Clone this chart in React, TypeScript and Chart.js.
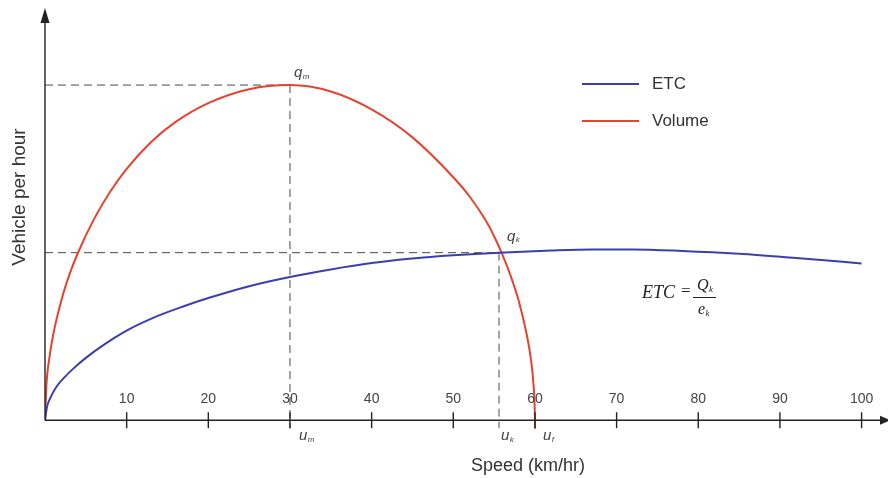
import React, { useEffect, useRef } from "react";
import { Chart, registerables } from "chart.js";

Chart.register(...registerables);

// ---- data ----
const etcSpeed = [0, 0.25, 0.6, 1.4, 2.5, 3.4, 5, 7.5, 10, 13.6, 17, 20, 25, 30, 35, 40, 45, 50, 55.6, 62, 67, 72, 78, 85, 92, 100];
const etcValue = [0, 80, 128, 200, 262, 305, 372, 460, 535, 618, 680, 729, 800, 855, 900, 938, 965, 984, 1000, 1013, 1019, 1019, 1010, 993, 968, 936];

const volumeSpeed = [0, 0.2, 0.5, 1, 2, 3, 4, 6, 8, 10, 13, 16, 20, 25, 30, 35, 40, 45, 50, 52, 54, 55, 56, 57, 58, 59, 59.5, 59.8, 60, 60.01];
const volumeValue = [0, 230, 360, 510, 715, 870, 995, 1200, 1365, 1500, 1660, 1780, 1892, 1975, 2000, 1962, 1855, 1688, 1450, 1335, 1190, 1098, 990, 865, 715, 510, 365, 225, 0, -50];

const xTickValues = [10, 20, 30, 40, 50, 60, 70, 80, 90, 100];
const seriesLabels = ["ETC", "Volume"];
const seriesColors = ["#3b3fae", "#e5432f"];

const qmPoint = { speed: 30, volume: 2000 };
const qkPoint = { speed: 55.6, volume: 1000 };
const ufSpeed = 60;

const xAxisTitle = "Speed (km/hr)";
const yAxisTitle = "Vehicle per hour";

const SANS = '"Liberation Sans", Arial, sans-serif';
const SERIF = '"Liberation Serif", "Times New Roman", serif';

function sub(ctx: CanvasRenderingContext2D, x: number, y: number, main: string, s: string, size: number, font: string) {
  ctx.font = `italic ${size}px ${font}`;
  ctx.textAlign = "left";
  ctx.textBaseline = "middle";
  ctx.fillText(main, x, y);
  const w = ctx.measureText(main).width;
  ctx.font = `italic ${Math.round(size * 0.55)}px ${font}`;
  ctx.fillText(s, x + w + 0.5, y + size * 0.22);
}

const overlayPlugin = {
  id: "overlay",
  beforeDatasetsDraw(chart: any) {
    const { ctx } = chart;
    const xs = chart.scales.x;
    const ys = chart.scales.y;
    const x0 = xs.getPixelForValue(0);
    const y0 = ys.getPixelForValue(0);
    ctx.save();
    ctx.strokeStyle = "#4a4a4a";
    ctx.lineWidth = 1;
    ctx.setLineDash([8, 5]);
    for (const p of [qmPoint, qkPoint]) {
      const px = xs.getPixelForValue(p.speed);
      const py = ys.getPixelForValue(p.volume);
      ctx.beginPath();
      ctx.moveTo(x0, py);
      ctx.lineTo(px, py);
      ctx.moveTo(px, py);
      ctx.lineTo(px, y0 + 8);
      ctx.stroke();
    }
    ctx.restore();
  },
  afterDatasetsDraw(chart: any) {
    const { ctx } = chart;
    const xs = chart.scales.x;
    const ys = chart.scales.y;
    const x0 = xs.getPixelForValue(0);
    const y0 = ys.getPixelForValue(0);
    ctx.save();
    ctx.setLineDash([]);
    ctx.strokeStyle = "#222";
    ctx.fillStyle = "#222";
    ctx.lineWidth = 1.4;
    // y axis
    ctx.beginPath();
    ctx.moveTo(x0, y0);
    ctx.lineTo(x0, 16);
    ctx.stroke();
    ctx.beginPath();
    ctx.moveTo(x0, 8);
    ctx.lineTo(x0 - 4.5, 23);
    ctx.lineTo(x0 + 4.5, 23);
    ctx.closePath();
    ctx.fill();
    // x axis
    ctx.beginPath();
    ctx.moveTo(x0, y0);
    ctx.lineTo(882, y0);
    ctx.stroke();
    ctx.beginPath();
    ctx.moveTo(890, y0);
    ctx.lineTo(880, y0 - 4.5);
    ctx.lineTo(880, y0 + 4.5);
    ctx.closePath();
    ctx.fill();
    // ticks + labels
    ctx.font = `14px ${SANS}`;
    ctx.fillStyle = "#444";
    ctx.textAlign = "center";
    ctx.textBaseline = "middle";
    for (const v of xTickValues) {
      const px = xs.getPixelForValue(v);
      ctx.beginPath();
      ctx.moveTo(px, y0 - 8);
      ctx.lineTo(px, y0 + 8);
      ctx.stroke();
      ctx.fillText(String(v), px, y0 - 21);
    }
    // u labels
    ctx.fillStyle = "#444";
    sub(ctx, xs.getPixelForValue(qmPoint.speed) + 9, y0 + 16, "u", "m", 15, SANS);
    sub(ctx, xs.getPixelForValue(qkPoint.speed) + 2, y0 + 16, "u", "k", 15, SANS);
    sub(ctx, xs.getPixelForValue(ufSpeed) + 8, y0 + 16, "u", "f", 15, SANS);
    // q labels
    sub(ctx, xs.getPixelForValue(qmPoint.speed) + 4, ys.getPixelForValue(qmPoint.volume) - 12, "q", "m", 15, SANS);
    sub(ctx, xs.getPixelForValue(qkPoint.speed) + 8, ys.getPixelForValue(qkPoint.volume) - 16, "q", "k", 15, SANS);
    // axis titles
    ctx.fillStyle = "#333";
    ctx.font = `18px ${SANS}`;
    ctx.textAlign = "center";
    ctx.textBaseline = "middle";
    ctx.fillText(xAxisTitle, 528, 466);
    ctx.save();
    ctx.translate(20, 197);
    ctx.rotate(-Math.PI / 2);
    ctx.font = `19px ${SANS}`;
    ctx.fillText(yAxisTitle, 0, 0);
    ctx.restore();
    // legend
    const legendY = [84, 121];
    seriesLabels.forEach((lab, i) => {
      ctx.strokeStyle = seriesColors[i];
      ctx.lineWidth = 2.2;
      ctx.beginPath();
      ctx.moveTo(582, legendY[i]);
      ctx.lineTo(639, legendY[i]);
      ctx.stroke();
      ctx.fillStyle = "#333";
      ctx.font = `17px ${SANS}`;
      ctx.textAlign = "left";
      ctx.textBaseline = "middle";
      ctx.fillText(lab, 652, legendY[i]);
    });
    // formula ETC = Q_k / e_k
    ctx.fillStyle = "#222";
    ctx.font = `italic 18px ${SERIF}`;
    ctx.textAlign = "left";
    ctx.textBaseline = "middle";
    ctx.fillText("ETC", 642, 293);
    ctx.font = `17px ${SERIF}`;
    ctx.fillText("=", 681, 292);
    ctx.strokeStyle = "#222";
    ctx.lineWidth = 1;
    ctx.beginPath();
    ctx.moveTo(693, 297.5);
    ctx.lineTo(716, 297.5);
    ctx.stroke();
    sub(ctx, 697, 286, "Q", "k", 16, SERIF);
    sub(ctx, 698, 310, "e", "k", 16, SERIF);
    ctx.restore();
  },
};

export default function App() {
  const ref = useRef<HTMLCanvasElement | null>(null);
  useEffect(() => {
    if (!ref.current) return;
    const chart = new Chart(ref.current, {
      type: "line",
      data: {
        datasets: [
          {
            label: seriesLabels[0],
            data: etcSpeed.map((s, i) => ({ x: s, y: etcValue[i] })),
            borderColor: seriesColors[0],
            borderWidth: 2,
            pointRadius: 0,
            cubicInterpolationMode: "monotone",
          },
          {
            label: seriesLabels[1],
            data: volumeSpeed.map((s, i) => ({ x: s, y: volumeValue[i] })),
            borderColor: seriesColors[1],
            borderWidth: 2,
            pointRadius: 0,
            cubicInterpolationMode: "monotone",
          },
        ],
      },
      options: {
        animation: false,
        responsive: false,
        layout: { padding: { left: 45, right: 6, top: 10, bottom: 41 } },
        plugins: { legend: { display: false }, tooltip: { enabled: false } },
        scales: {
          x: { type: "linear", min: 0, max: 102.5, display: false },
          y: { type: "linear", min: -100, max: 2448, display: false },
        },
      },
      plugins: [overlayPlugin],
    } as any);
    return () => chart.destroy();
  }, []);
  return (
    <div style={{ position: "absolute", left: 0, top: 0, width: 888, height: 478, background: "#fff" }}>
      <canvas ref={ref} width={888} height={478} style={{ width: 888, height: 478, display: "block" }} />
    </div>
  );
}
